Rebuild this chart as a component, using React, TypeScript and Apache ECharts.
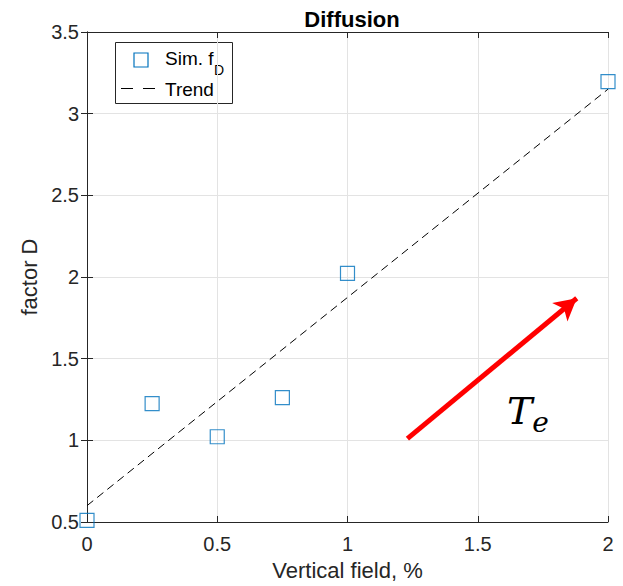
import React, { useEffect, useRef } from "react";
import * as echarts from "echarts";

const simX = [0, 0.25, 0.5, 0.75, 1, 2];
const simY = [0.51, 1.225, 1.022, 1.262, 2.022, 3.196];
const trendX = [0, 2];
const trendY = [0.6, 3.15];
const arrowStart = [1.23, 1.01];
const arrowEnd = [1.88, 1.87];
const xTicks = [0, 0.5, 1, 1.5, 2];
const yTicks = [0.5, 1, 1.5, 2, 2.5, 3, 3.5];
const legendNames = ["Sim. f", "D", "Trend"];

const FONT = "'Liberation Sans', Arial, Helvetica, sans-serif";
const SERIF = "'DejaVu Serif', 'Liberation Serif', serif";
const DARK = "#262626";
const BLUE = "#0072BD";

export default function App() {
  const ref = useRef<HTMLDivElement>(null);
  useEffect(() => {
    const chart = echarts.init(ref.current!, null, { renderer: "svg" });
    const fmt = (v: number) => String(v);
    const baseAxis = {
      axisLine: { show: true, lineStyle: { color: DARK, width: 1 } },
      axisTick: { show: true, inside: true, length: 6, lineStyle: { color: DARK } },
      splitLine: { show: false },
    };
    chart.setOption({
      animation: false,
      title: {
        text: "Diffusion",
        left: 347,
        textAlign: "center",
        top: 3,
        textStyle: { fontFamily: FONT, fontWeight: "bold", fontSize: 22, color: "#000" },
      },
      grid: { left: 87, top: 32, right: 15, bottom: 62, containLabel: false },
      xAxis: [
        {
          ...baseAxis,
          type: "value",
          min: xTicks[0],
          max: xTicks[xTicks.length - 1],
          interval: 0.5,
          position: "bottom",
          name: "Vertical field, %",
          nameLocation: "middle",
          nameGap: 37,
          nameTextStyle: { fontFamily: FONT, fontSize: 22, color: DARK },
          axisLabel: { fontFamily: FONT, fontSize: 20, color: DARK, margin: 12, formatter: fmt },
          splitLine: { show: true, lineStyle: { color: "#e3e3e3", width: 1 } },
        },
        {
          ...baseAxis,
          type: "value",
          min: xTicks[0],
          max: xTicks[xTicks.length - 1],
          interval: 0.5,
          position: "top",
          axisLabel: { show: false },
        },
      ],
      yAxis: [
        {
          ...baseAxis,
          type: "value",
          min: yTicks[0],
          max: yTicks[yTicks.length - 1],
          interval: 0.5,
          position: "left",
          name: "factor D",
          nameLocation: "middle",
          nameGap: 45,
          nameTextStyle: { fontFamily: FONT, fontSize: 22, color: DARK },
          axisLabel: { fontFamily: FONT, fontSize: 20, color: DARK, margin: 8, formatter: fmt },
          splitLine: { show: true, lineStyle: { color: "#e3e3e3", width: 1 } },
        },
        {
          ...baseAxis,
          type: "value",
          min: yTicks[0],
          max: yTicks[yTicks.length - 1],
          interval: 0.5,
          position: "right",
          axisLabel: { show: false },
        },
      ],
      series: [
        {
          name: "Trend",
          type: "line",
          data: trendX.map((x, i) => [x, trendY[i]]),
          symbol: "none",
          lineStyle: { color: "#000", width: 1, type: [8, 5] },
          z: 3,
        },
        {
          name: "Sim",
          type: "scatter",
          data: simX.map((x, i) => [x, simY[i]]),
          symbol: "rect",
          symbolSize: 14,
          itemStyle: { color: "transparent", borderColor: BLUE, borderWidth: 1.2 },
          clip: false,
          z: 4,
        },
        {
          name: "arrow",
          type: "line",
          data: [],
          markLine: {
            silent: true,
            symbol: ["none", "arrow"],
            symbolSize: [18, 22],
            label: { show: false },
            lineStyle: { color: "#ff0000", width: 5, type: "solid" },
            data: [[{ coord: arrowStart }, { coord: arrowEnd }]],
          },
          z: 5,
        },
      ],
      graphic: [
        {
          type: "group",
          z: 100,
          children: [
            {
              type: "rect",
              shape: { x: 115.5, y: 42.5, width: 117, height: 61 },
              style: { fill: "#fff", stroke: DARK, lineWidth: 1 },
            },
            {
              type: "rect",
              shape: { x: 134, y: 53, width: 14, height: 14 },
              style: { fill: "none", stroke: BLUE, lineWidth: 1.2 },
            },
            {
              type: "text",
              x: 165,
              y: 58,
              style: { text: legendNames[0], fontFamily: FONT, fontSize: 19, fill: "#000", verticalAlign: "middle" },
            },
            {
              type: "text",
              x: 214,
              y: 63,
              style: { text: legendNames[1], fontFamily: FONT, fontSize: 14, fill: "#000", verticalAlign: "top" },
            },
            {
              type: "line",
              shape: { x1: 121, y1: 88.5, x2: 155, y2: 88.5 },
              style: { stroke: "#000", lineWidth: 1, lineDash: [12, 10] },
            },
            {
              type: "text",
              x: 165,
              y: 89,
              style: { text: legendNames[2], fontFamily: FONT, fontSize: 19, fill: "#000", verticalAlign: "middle" },
            },
          ],
        },
        {
          type: "text",
          left: 507,
          top: 392,
          style: {
            text: "{t|T}{e|e}",
            rich: {
              t: { fontFamily: SERIF, fontStyle: "italic", fontSize: 38, fill: "#000" },
              e: { fontFamily: SERIF, fontStyle: "italic", fontSize: 28, fill: "#000", padding: [22, 0, 0, 0] },
            },
          },
        },
      ],
    });
    return () => chart.dispose();
  }, []);
  return <div ref={ref} style={{ width: 623, height: 586, position: "absolute", left: 0, top: 0 }} />;
}
